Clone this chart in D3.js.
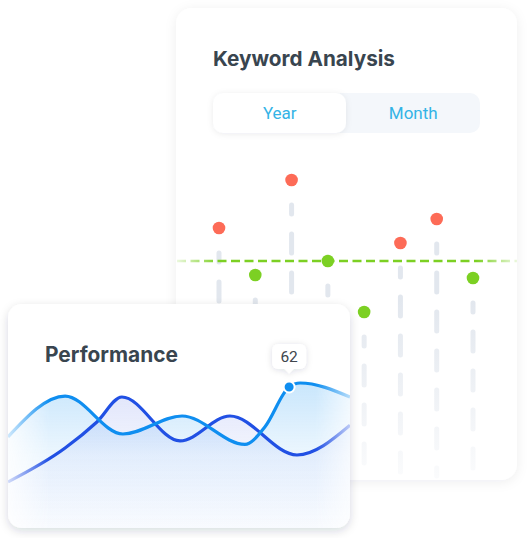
<!DOCTYPE html>
<html><head><meta charset="utf-8">
<script src="https://cdn.jsdelivr.net/npm/d3@7"></script>
<style>html,body{margin:0;padding:0;background:#fff;}svg{display:block}</style>
</head><body>
<svg id="c" width="528" height="538"></svg>
<script>
// ---- Keyword Analysis data ----
const kwTitle = "Keyword Analysis";
const kwTabs = ["Year", "Month"];
const kwCategories = ["1", "2", "3", "4", "5", "6", "7", "8"];
const kwValues = [66, 42.5, 90, 49.5, 24, 58.5, 70.5, 41];
const kwThreshold = 49.5;

// ---- Performance data ----
const perfTitle = "Performance";
const lightX = [0, 16.7, 33.6, 50.9, 69.3, 75.1, 82.2, 85.4, 100];
const lightY = [34.6, 57, 36.2, 46.1, 30.5, 40.1, 62, 64.2, 56.5];
const darkX = [0, 16.7, 26, 33.3, 50.3, 64.9, 84.5, 100];
const darkY = [9.9, 28.5, 42.8, 56.5, 32.4, 46.1, 24.7, 41];
const highlightIndex = 6;

const svg = d3.select("#c");
const defs = svg.append("defs");

function shadow(id, dy, blur, op) {
  const f = defs.append("filter").attr("id", id).attr("x", "-20%").attr("y", "-20%").attr("width", "140%").attr("height", "140%");
  f.append("feDropShadow").attr("dx", 0).attr("dy", dy).attr("stdDeviation", blur)
    .attr("flood-color", "#1d2b45").attr("flood-opacity", op);
}
shadow("shKw", 2, 6, 0.07);
shadow("shPerf", 3, 5, 0.16);
shadow("shTab", 1, 3, 0.08);
shadow("shTip", 1, 3, 0.14);

function fitText(sel, w) {
  const node = sel.node();
  let fs = parseFloat(sel.attr("font-size"));
  const cur = node.getComputedTextLength();
  sel.attr("font-size", (fs * w / cur).toFixed(2));
}

// ================= Keyword card =================
const kw = svg.append("g");
kw.append("rect").attr("x", 176).attr("y", 8).attr("width", 341).attr("height", 472)
  .attr("rx", 16).attr("fill", "#fff").attr("filter", "url(#shKw)");

const t1 = kw.append("text").attr("x", 213).attr("y", 66).text(kwTitle)
  .attr("font-family", "Inter, 'Open Sans', sans-serif").attr("font-weight", 700)
  .attr("font-size", 20).attr("fill", "#39454f");
fitText(t1, 182);

// tabs
kw.append("rect").attr("x", 213).attr("y", 93).attr("width", 267).attr("height", 40).attr("rx", 10).attr("fill", "#f4f7fb");
kw.append("rect").attr("x", 213).attr("y", 93).attr("width", 133).attr("height", 40).attr("rx", 10).attr("fill", "#fff").attr("filter", "url(#shTab)");
const tabX = d3.scaleBand().domain(kwTabs).range([213, 480]);
kw.selectAll("text.tab").data(kwTabs).join("text").attr("class", "tab")
  .attr("x", d => tabX(d) + tabX.bandwidth() / 2).attr("y", 119)
  .attr("text-anchor", "middle").attr("font-family", "Roboto, sans-serif")
  .attr("font-size", 17).attr("fill", "#33b3e6").text(d => d);

const kx = d3.scalePoint().domain(kwCategories).range([219, 473]);
const ky = d3.scaleLinear().domain([0, 100]).range([360, 160]);

const gg = defs.append("linearGradient").attr("id", "gGrey").attr("gradientUnits", "userSpaceOnUse")
  .attr("x1", 0).attr("x2", 0).attr("y1", 300).attr("y2", 480);
gg.append("stop").attr("offset", 0).attr("stop-color", "#e2e7ee").attr("stop-opacity", 1);
gg.append("stop").attr("offset", 1).attr("stop-color", "#e2e7ee").attr("stop-opacity", 0.15);

kw.selectAll("line.stem").data(kwValues).join("line").attr("class", "stem")
  .attr("x1", (d, i) => kx(kwCategories[i])).attr("x2", (d, i) => kx(kwCategories[i]))
  .attr("y1", d => ky(d) + 25).attr("y2", 476)
  .attr("stroke", "url(#gGrey)").attr("stroke-width", 5).attr("stroke-linecap", "round")
  .attr("stroke-dasharray", "19 20").attr("stroke-dashoffset", 10);

const gGreen = defs.append("linearGradient").attr("id", "gGreen").attr("gradientUnits", "userSpaceOnUse")
  .attr("x1", 177).attr("x2", 517).attr("y1", 0).attr("y2", 0);
[[0, 0.15], [0.12, 1], [0.88, 1], [1, 0.15]].forEach(([o, a]) =>
  gGreen.append("stop").attr("offset", o).attr("stop-color", "#7cd023").attr("stop-opacity", a));
kw.append("line").attr("x1", 177).attr("x2", 517).attr("y1", ky(kwThreshold)).attr("y2", ky(kwThreshold))
  .attr("stroke", "url(#gGreen)").attr("stroke-width", 2.5).attr("stroke-dasharray", "9 4.5");

kw.selectAll("circle.dot").data(kwValues).join("circle").attr("class", "dot")
  .attr("cx", (d, i) => kx(kwCategories[i])).attr("cy", d => ky(d)).attr("r", 6.3)
  .attr("fill", d => d > kwThreshold ? "#fd6b57" : "#7cd023");

// ================= Performance card =================
const pc = svg.append("g");
pc.append("rect").attr("x", 8).attr("y", 304).attr("width", 342).attr("height", 224)
  .attr("rx", 14).attr("fill", "#fff").attr("filter", "url(#shPerf)");
defs.append("clipPath").attr("id", "clipPerf").append("rect")
  .attr("x", 8).attr("y", 304).attr("width", 342).attr("height", 224).attr("rx", 14);

pc.append("text").attr("x", 45).attr("y", 362).text(perfTitle)
  .attr("font-family", "Inter, 'Open Sans', sans-serif").attr("font-weight", 700)
  .attr("font-size", 20).attr("fill", "#39454f").call(s => fitText(s, 133));

const px = d3.scaleLinear().domain([0, 100]).range([8, 350]);
const py = d3.scaleLinear().domain([0, 100]).range([500, 500 - 182.26]);

// mask for edge fade
const mg = defs.append("linearGradient").attr("id", "gMask").attr("gradientUnits", "userSpaceOnUse")
  .attr("x1", 8).attr("x2", 350).attr("y1", 0).attr("y2", 0);
[[0, 0.2], [0.12, 1], [0.9, 1], [1, 0.3]].forEach(([o, a]) =>
  mg.append("stop").attr("offset", o).attr("stop-color", "#fff").attr("stop-opacity", a));
defs.append("mask").attr("id", "mPerf").attr("maskUnits", "userSpaceOnUse")
  .attr("x", 0).attr("y", 0).attr("width", 528).attr("height", 538)
  .append("rect").attr("x", 8).attr("y", 300).attr("width", 342).attr("height", 238).attr("fill", "url(#gMask)");

function vgrad(id, color, a) {
  const g = defs.append("linearGradient").attr("id", id).attr("gradientUnits", "userSpaceOnUse")
    .attr("x1", 0).attr("x2", 0).attr("y1", 385).attr("y2", 525);
  g.append("stop").attr("offset", 0).attr("stop-color", color).attr("stop-opacity", a);
  g.append("stop").attr("offset", 0.5).attr("stop-color", color).attr("stop-opacity", a * 0.35);
  g.append("stop").attr("offset", 1).attr("stop-color", color).attr("stop-opacity", 0.02);
}
vgrad("gLight", "#3aa5f5", 0.27);
vgrad("gDark", "#4a66e8", 0.18);

const chart = pc.append("g").attr("clip-path", "url(#clipPerf)").append("g").attr("mask", "url(#mPerf)");
const lightData = lightX.map((x, i) => [x, lightY[i]]);
const darkData = darkX.map((x, i) => [x, darkY[i]]);
const curve = d3.curveMonotoneX;
const area = d3.area().x(d => px(d[0])).y0(528).y1(d => py(d[1])).curve(curve);
const line = d3.line().x(d => px(d[0])).y(d => py(d[1])).curve(curve);

chart.append("path").attr("d", area(lightData)).attr("fill", "url(#gLight)");
chart.append("path").attr("d", area(darkData)).attr("fill", "url(#gDark)");
chart.append("path").attr("d", line(darkData)).attr("fill", "none").attr("stroke", "#2150e4").attr("stroke-width", 3.2);
chart.append("path").attr("d", line(lightData)).attr("fill", "none").attr("stroke", "#0f8ef0").attr("stroke-width", 3.2);

// highlight
const hx = px(lightX[highlightIndex]), hy = py(lightY[highlightIndex]);
pc.append("circle").attr("cx", hx).attr("cy", hy).attr("r", 5.5).attr("fill", "#0f8ef0")
  .attr("stroke", "#fff").attr("stroke-width", 2);
const tip = pc.append("g").attr("filter", "url(#shTip)");
tip.append("rect").attr("x", hx - 17).attr("y", hy - 43).attr("width", 34).attr("height", 25).attr("rx", 6).attr("fill", "#fff");
tip.append("path").attr("d", `M${hx - 5},${hy - 18.5} L${hx},${hy - 13.5} L${hx + 5},${hy - 18.5} Z`).attr("fill", "#fff");
pc.append("text").attr("x", hx).attr("y", hy - 25).attr("text-anchor", "middle")
  .attr("font-family", "Roboto, sans-serif").attr("font-size", 15.5).attr("fill", "#40464d")
  .text(lightY[highlightIndex]);
</script>
</body></html>
